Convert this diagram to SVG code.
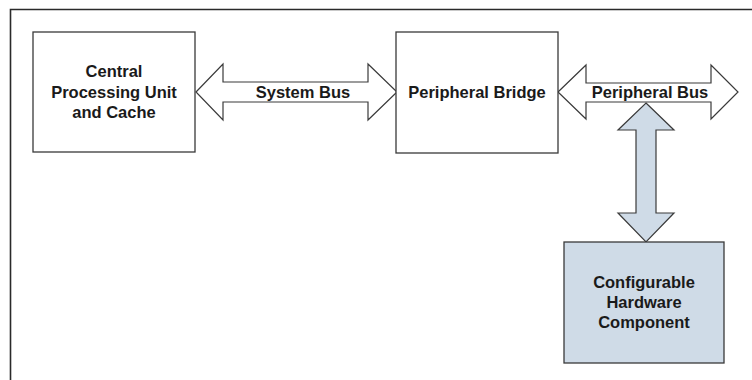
<svg xmlns="http://www.w3.org/2000/svg" width="752" height="380" viewBox="0 0 752 380">
  <style>
    .box { fill: #ffffff; stroke: #3a3a3a; stroke-width: 1.3; }
    .hw { fill: #cfdbe7; stroke: #3a3a3a; stroke-width: 1.3; }
    .bus { fill: #ffffff; stroke: #3a3a3a; stroke-width: 1.2; stroke-linejoin: miter; }
    .link { fill: #cfdbe7; stroke: #3a3a3a; stroke-width: 1.2; stroke-linejoin: miter; }
    .frame { stroke: #2a2a2a; stroke-width: 1.6; fill: none; }
    text { font-family: "Liberation Sans", Arial, sans-serif; font-weight: bold; font-size: 16.5px; fill: #1a1a1a; text-anchor: middle; }
  </style>

  <!-- outer frame (open to the right and bottom) -->
  <path class="frame" d="M10.5,380 V9.5 H752"/>

  <!-- bus connectors: double-headed block arrows -->
  <g id="connectors">
    <path id="system-bus" class="bus" d="M196,92 L223,64 L223,82 L368,82 L368,64 L397,92 L368,120 L368,102 L223,102 L223,120 Z"/>
    <path id="peripheral-bus" class="bus" d="M558,92 L586,65 L586,83 L711,83 L711,65 L738,92 L711,119 L711,102 L586,102 L586,119 Z"/>
    <path id="hw-link" class="link" d="M646,103 L674,130 L656,130 L656,213 L674,213 L646,242 L618,213 L636,213 L636,130 L618,130 Z"/>
    <text x="303" y="98">System Bus</text>
    <text x="650" y="98">Peripheral Bus</text>
  </g>

  <g id="cpu">
    <rect class="box" x="33" y="32" width="162" height="120"/>
    <text x="114" y="77">Central</text>
    <text x="114" y="98">Processing Unit</text>
    <text x="114" y="118">and Cache</text>
  </g>

  <g id="bridge">
    <rect class="box" x="396" y="32" width="162" height="121"/>
    <text x="477" y="98">Peripheral Bridge</text>
  </g>

  <g id="hardware">
    <rect class="hw" x="564" y="242" width="160" height="121"/>
    <text x="644" y="288">Configurable</text>
    <text x="644" y="308">Hardware</text>
    <text x="644" y="328">Component</text>
  </g>
</svg>
